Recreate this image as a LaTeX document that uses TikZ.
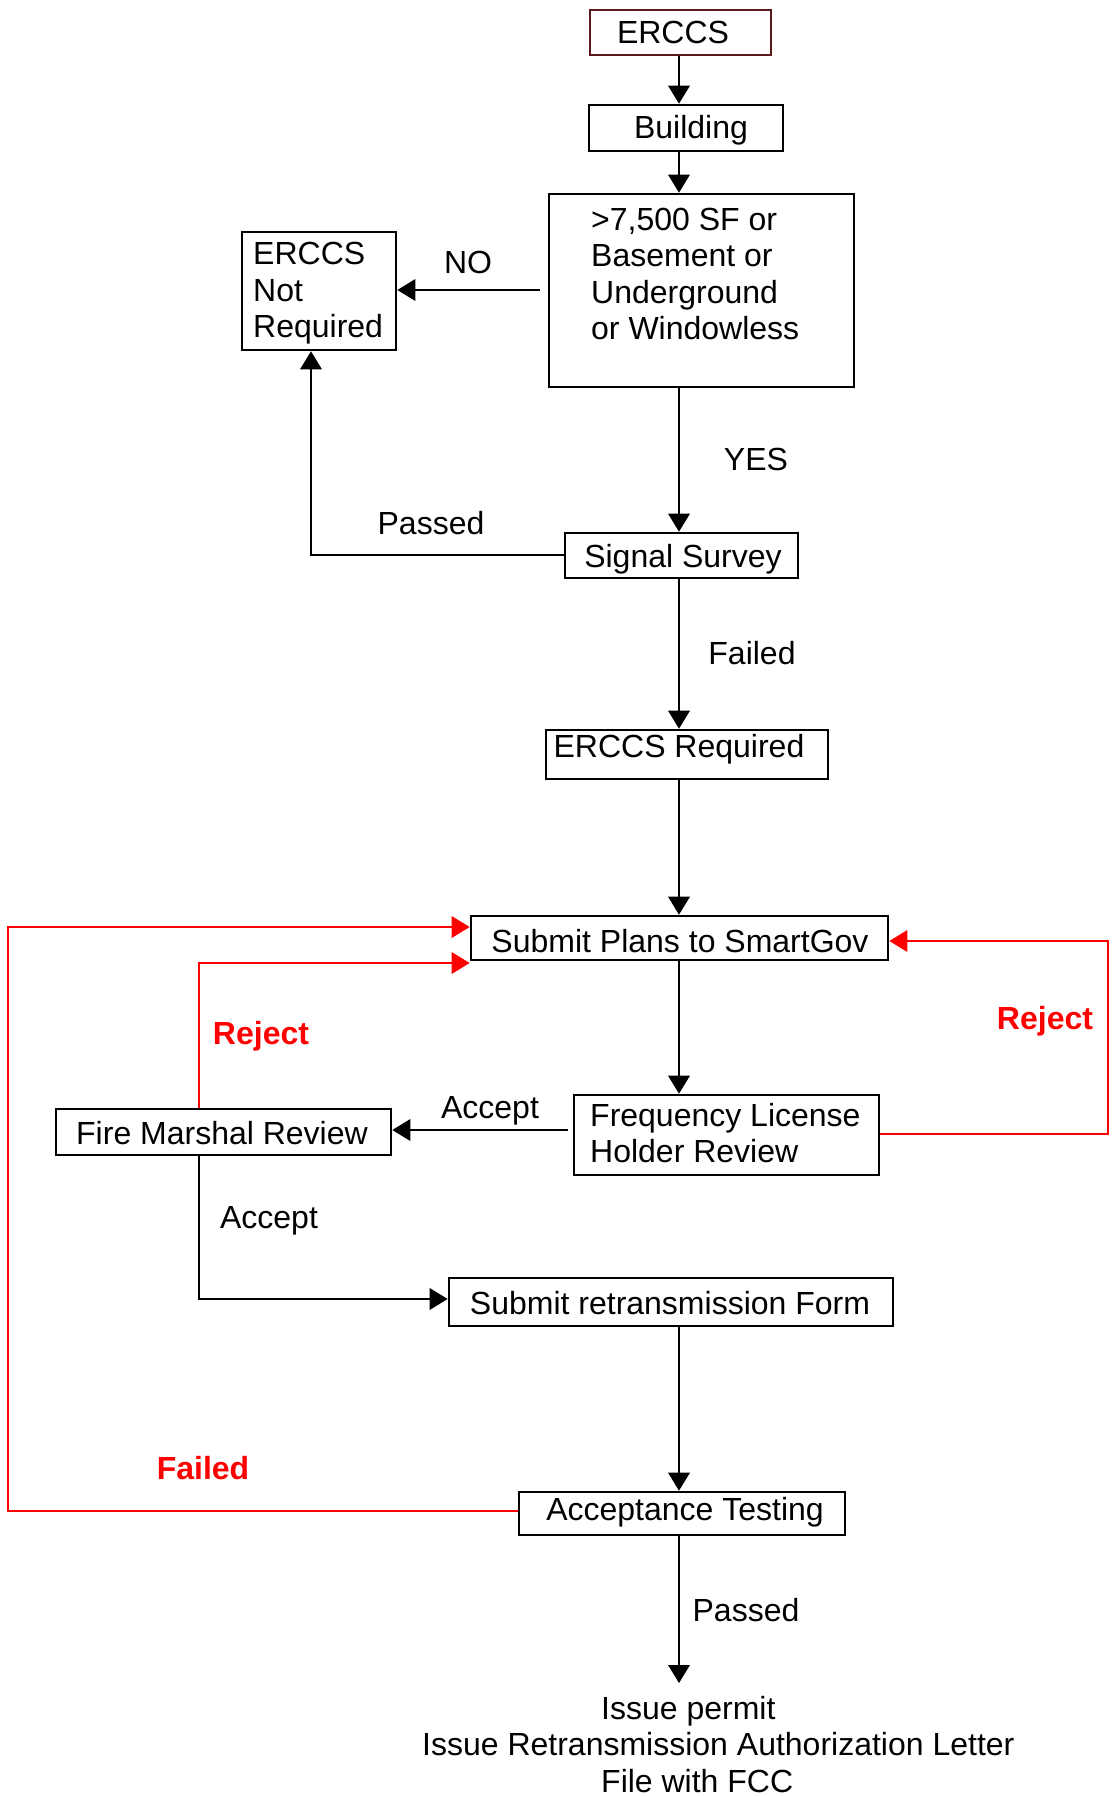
\documentclass[tikz,border=0pt]{standalone}
\usepackage{fontspec}
\setmainfont{Liberation Sans}
\usetikzlibrary{arrows.meta}
\definecolor{dred}{HTML}{5C1A1A}
\definecolor{rred}{HTML}{FF0000}
\begin{document}
\begin{tikzpicture}[x=1pt,y=-1pt,
  every node/.style={font=\fontsize{32}{36.6}\selectfont, inner sep=0pt},
  box/.style={draw, line width=2.6pt},
  rlbl/.style={text=rred, font=\fontsize{32}{36.6}\selectfont\bfseries},
  conn/.style={line width=1.8pt, -{Triangle[length=18pt,width=21.5pt]}},
  rconn/.style={conn, draw=rred},
  plain/.style={line width=1.8pt}
]
\useasboundingbox (0,0) rectangle (1111,1796);
% boxes
\node[box, draw=dred, minimum width=181pt, minimum height=45pt] (erccs) at (680.5,32.5) {};
\node[box, minimum width=194pt, minimum height=46pt] (bldg) at (686,128) {};
\node[box, minimum width=305pt, minimum height=193pt] (cond) at (701.5,290.5) {};
\node[box, minimum width=154pt, minimum height=118pt] (notreq) at (319,291) {};
\node[box, minimum width=233pt, minimum height=45pt] (survey) at (681.5,555.5) {};
\node[box, minimum width=282pt, minimum height=49pt] (req) at (687,754.5) {};
\node[box, minimum width=417pt, minimum height=44pt] (plans) at (679.5,938) {};
\node[box, minimum width=305pt, minimum height=80pt] (freq) at (726.5,1135) {};
\node[box, minimum width=335pt, minimum height=46pt] (fire) at (223.5,1132) {};
\node[box, minimum width=444pt, minimum height=48pt] (retrans) at (671,1302) {};
\node[box, minimum width=326pt, minimum height=43pt] (accept) at (682,1513.5) {};
% texts
\node (terccs) at (673,32) {ERCCS};
\node (tbldg) at (691,130) {Building};
\node[anchor=west, align=left] (tcond) at (591,274) {>7,500 SF or\\Basement or\\Underground\\or Windowless};
\node[anchor=west, align=left] (tnotreq) at (253,293.5) {ERCCS\\Not\\Required};
\node (tsurvey) at (683,559) {Signal Survey};
\node (treq) at (679,749) {ERCCS Required};
\node (tplans) at (680,941) {Submit Plans to SmartGov};
\node[anchor=west, align=left] (tfreq) at (590,1133) {Frequency License\\Holder Review};
\node (tfire) at (222,1133) {Fire Marshal Review};
\node (tretrans) at (670,1303) {Submit retransmission Form};
\node (taccept) at (685,1512) {Acceptance Testing};
\node[anchor=west, align=left] (final) at (422,1744.5) {\hspace*{179pt}Issue permit\\Issue Retransmission Authorization Letter\\\hspace*{179pt}File with FCC};
% labels
\node (lno) at (468,262) {NO};
\node (lyes) at (756,459) {YES};
\node (lpassed) at (431,523) {Passed};
\node (lfailed) at (752,653) {Failed};
\node (laccept1) at (490,1111) {Accept};
\node (laccept2) at (269,1221) {Accept};
\node[rlbl] (lreject1) at (261,1036) {Reject};
\node[rlbl] (lreject2) at (1045,1021) {Reject};
\node[rlbl] (lfailed2) at (203,1468) {Failed};
\node (lpassed2) at (746,1610) {Passed};
% coordinates
\coordinate (mc) at (679,0);
\coordinate (noy) at (0,290);
\coordinate (pc) at (311,555);
\coordinate (acy) at (0,1130);
\coordinate (rj1) at (199,963);
\coordinate (f1) at (8,1511);
\coordinate (f2) at (8,927);
\coordinate (r1) at (1108,1134);
\coordinate (r2) at (1108,941);
\coordinate (ad) at (199,1299);
\coordinate (fin) at (679,1683);
% connectors
\draw[conn] (erccs.south -| mc) -- (bldg.north -| mc);
\draw[conn] (bldg.south -| mc) -- (cond.north -| mc);
\draw[conn, shorten <=8pt] (cond.west |- noy) -- (notreq.east |- noy);
\draw[conn] (cond.south -| mc) -- (survey.north -| mc);
\draw[conn] (survey.west |- pc) -- (pc) -- (notreq.south -| pc);
\draw[conn] (survey.south -| mc) -- (req.north -| mc);
\draw[conn] (req.south -| mc) -- (plans.north -| mc);
\draw[conn] (plans.south -| mc) -- (freq.north -| mc);
\draw[conn, shorten <=5pt] (freq.west |- acy) -- (fire.east |- acy);
\draw[rconn] (fire.north -| rj1) -- (rj1) -- (plans.west |- rj1);
\draw[rconn] (accept.west |- f1) -- (f1) -- (f2) -- (plans.west |- f2);
\draw[rconn] (freq.east |- r1) -- (r1) -- (r2) -- (plans.east |- r2);
\draw[conn] (fire.south -| ad) -- (ad) -- (retrans.west |- ad);
\draw[conn] (retrans.south -| mc) -- (accept.north -| mc);
\draw[conn] (accept.south -| mc) -- (fin);
\end{tikzpicture}
\end{document}
